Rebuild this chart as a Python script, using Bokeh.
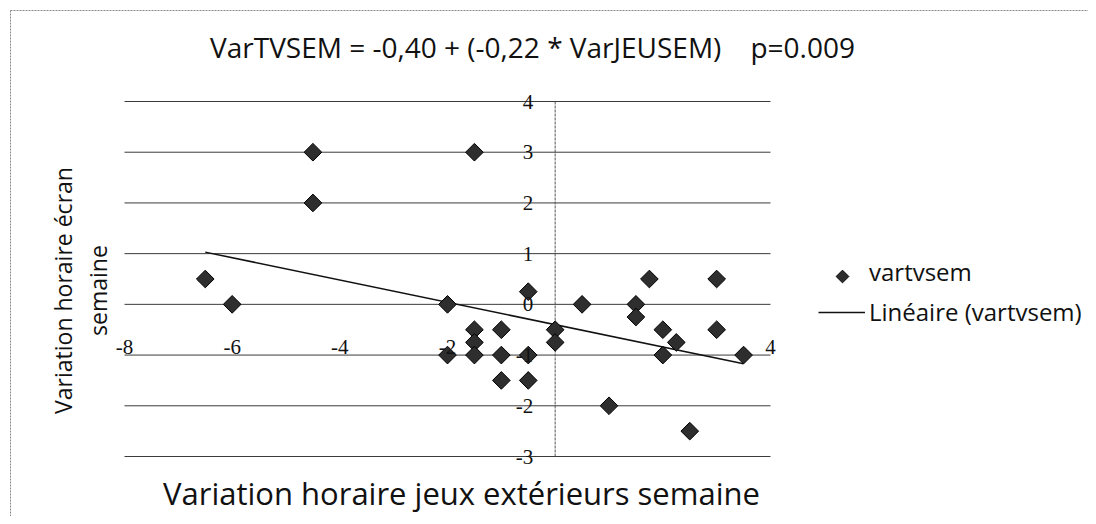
import math
from bokeh.plotting import figure
from bokeh.models import (Range1d, Label, LabelSet, ColumnDataSource, Legend, LegendItem)
from bokeh.core.properties import value
from bokeh.embed import file_html
from bokeh.resources import INLINE

# ---------------- data ----------------
var_jeu_sem = [-6.5, -6, -4.5, -4.5, -1.5, -2, -0.5, 0.5, 1.5, 1.75, 3, 1.5,
               -1.5, -1.5, -1.5, -2, -1, -1, -1, -0.5, -0.5, 0, 0,
               2, 2.25, 2, 3, 3.5, 1, 2.5]
var_tv_sem = [0.5, 0, 3, 2, 3, 0, 0.25, 0, 0, 0.5, 0.5, -0.25,
              -0.5, -0.75, -1, -1, -0.5, -1, -1.5, -1.5, -1, -0.5, -0.75,
              -0.5, -0.75, -1, -0.5, -1, -2, -2.5]
intercept = -0.40
slope = -0.22
x_tick_labels = [-8, -6, -4, -2, 4]
y_tick_values = [-3, -2, -1, 0, 1, 2, 3, 4]
x_min_axis, x_max_axis = -8, 4
y_min_axis, y_max_axis = -3, 4

NB = "\u00a0"
title_text = "VarTVSEM = -0,40 + (-0,22 * VarJEUSEM)" + NB * 3 + " p=0.009"
x_title = "Variation horaire jeux extérieurs semaine"
y_title_1 = "Variation horaire écran"
y_title_2 = "semaine"
series_name = "vartvsem"
trend_name = "Linéaire (vartvsem)"

# ---------------- layout (page px -> data) ----------------
W, H = 1088, 516
PAGE_OFF = 0
PL, PR, PT, PB = 124, 770, 101, 456   # reference plot area, page px
sx = (x_max_axis - x_min_axis) / (PR - PL)
sy = (y_max_axis - y_min_axis) / (PB - PT)
x_start = x_min_axis - (PL - PAGE_OFF) * sx
x_end = x_min_axis + (PAGE_OFF + W - PL) * sx
y_end = y_max_axis + (PT - PAGE_OFF) * sy
y_start = y_max_axis - (PAGE_OFF + H - PT) * sy

def cx(px):
    return x_min_axis + (px - PL) * sx

def cy(py):
    return y_max_axis - (py - PT) * sy

SANS = "Open Sans"
SERIF = "Liberation Serif"

p = figure(width=W, height=H, x_range=Range1d(x_start, x_end), y_range=Range1d(y_start, y_end),
           output_backend="svg", toolbar_location=None,
           x_axis_location=None, y_axis_location=None,
           min_border=0)
p.outline_line_color = None
p.grid.visible = False

# outer chart border (top and left, faint)
p.segment(x0=[cx(10), cx(10)], y0=[cy(10), cy(10)], x1=[cx(1094), cx(10)], y1=[cy(10), cy(522)],
          line_color="#8a8a8a", line_width=1, line_dash="2 1")

# horizontal gridlines
p.segment(x0=[x_min_axis] * len(y_tick_values), y0=y_tick_values,
          x1=[x_max_axis] * len(y_tick_values), y1=y_tick_values,
          line_color="#3a3a3a", line_width=1)
# vertical axis through x = 0
p.segment(x0=[0], y0=[y_min_axis], x1=[0], y1=[y_max_axis],
          line_color="#555555", line_width=1, line_dash="3 1")

# trend line
xs_tr = [min(var_jeu_sem), max(var_jeu_sem)]
ys_tr = [intercept + slope * v for v in xs_tr]
trend = p.line(xs_tr, ys_tr, line_color="#111111", line_width=1.5)

# points (diamonds)
pts = p.scatter(var_jeu_sem, var_tv_sem, marker="square", angle=math.pi / 4, size=12.5,
                fill_color="#2e2e2e", line_color="#000000", line_width=1)

# tick labels
xsrc = ColumnDataSource(dict(x=x_tick_labels, y=[-1] * len(x_tick_labels),
                             t=[str(v) for v in x_tick_labels]))
p.add_layout(LabelSet(x="x", y="y", text="t", source=xsrc, text_align="center",
                      text_baseline="bottom", y_offset=1,
                      text_font=value(SERIF), text_font_size="21px", text_color="#111111"))
ysrc = ColumnDataSource(dict(x=[0] * len(y_tick_values), y=y_tick_values,
                             t=[str(v) for v in y_tick_values]))
p.add_layout(LabelSet(x="x", y="y", text="t", source=ysrc, text_align="right",
                      text_baseline="middle", x_offset=-22,
                      text_font=value(SERIF), text_font_size="21px", text_color="#111111"))

# titles
p.add_layout(Label(x=cx(532), y=cy(46), text=title_text, text_align="center",
                   text_baseline="middle", text_font=SANS, text_font_size="28px",
                   text_color="#111111"))
p.add_layout(Label(x=cx(461), y=cy(492), text=x_title, text_align="center",
                   text_baseline="middle", text_font=SANS, text_font_size="31px",
                   text_color="#111111"))
p.add_layout(Label(x=cx(62), y=cy(290), text=y_title_1, text_align="center",
                   text_baseline="middle", angle=math.pi / 2, text_font=SANS,
                   text_font_size="23px", text_color="#111111"))
p.add_layout(Label(x=cx(97), y=cy(290), text=y_title_2, text_align="center",
                   text_baseline="middle", angle=math.pi / 2, text_font=SANS,
                   text_font_size="23px", text_color="#111111"))

# legend: symbol of the series drawn as a rotated square next to its entry
legend_key = p.scatter(x=[cx(842)], y=[cy(276)], marker="square", angle=math.pi / 4, size=9,
                       fill_color="#2e2e2e", line_color="#000000", line_width=1)
dummy = p.scatter(x=[], y=[], marker="square", fill_alpha=0, line_alpha=0)
LEG_TOP, ITEM_H, GAP = 261, 30, 7
leg_h = 2 * ITEM_H + GAP
legend = Legend(items=[LegendItem(label=series_name, renderers=[dummy]),
                       LegendItem(label=trend_name, renderers=[trend])],
                location=(818 - PAGE_OFF, H - (LEG_TOP + leg_h - PAGE_OFF)),
                glyph_width=47, glyph_height=ITEM_H,
                label_height=ITEM_H, spacing=GAP, padding=0, margin=0,
                border_line_alpha=0, background_fill_alpha=0, label_standoff=4,
                label_text_font=SANS, label_text_font_size="24px",
                label_text_color="#111111")
p.add_layout(legend, "center")

open("out.html", "w").write(file_html(p, INLINE))
